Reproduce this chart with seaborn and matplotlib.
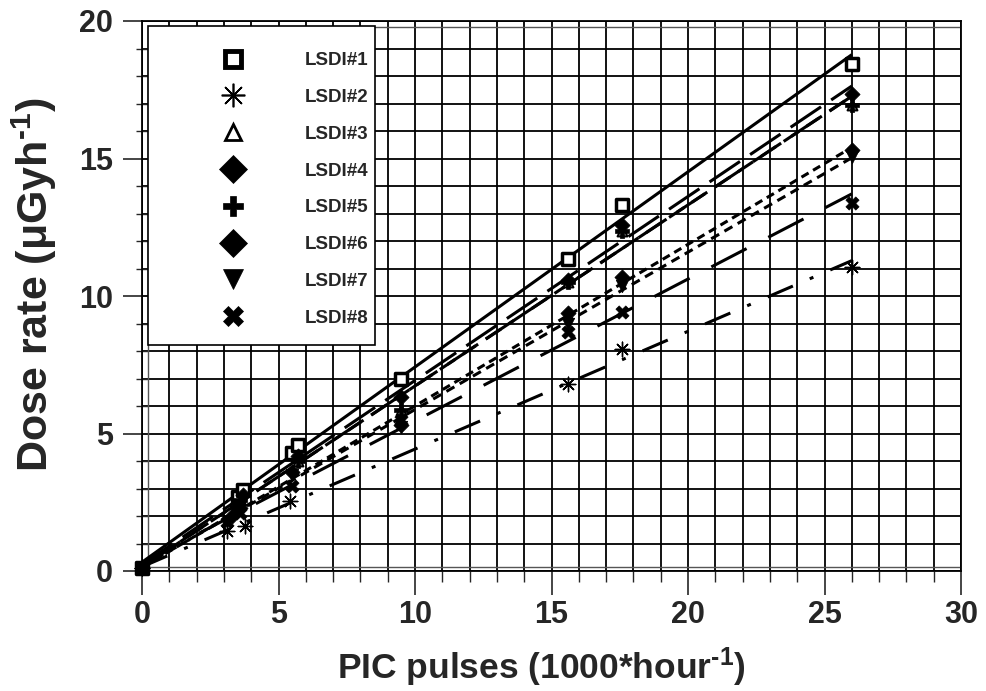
import numpy as np
import pandas as pd
import matplotlib
matplotlib.use("Agg")
import matplotlib.pyplot as plt
import seaborn as sns
from matplotlib.lines import Line2D
from matplotlib.patches import Rectangle
from matplotlib.ticker import MultipleLocator

# ---- data ----
names = ["LSDI#1", "LSDI#2", "LSDI#3", "LSDI#4", "LSDI#5", "LSDI#6", "LSDI#7", "LSDI#8"]
x1 = [0, 3.5, 3.7, 5.48, 5.73, 9.5, 15.6, 17.6, 26]
y1 = [0.1, 2.7, 2.95, 4.28, 4.58, 7.0, 11.35, 13.3, 18.45]
x2 = [0, 3.1, 3.77, 5.42, 15.6, 17.6, 26]
y2 = [0.1, 1.46, 1.64, 2.55, 6.8, 8.07, 11.05]
x3 = [0, 3.6, 5.7, 9.5, 15.6, 17.6, 26]
y3 = [0.1, 2.6, 4.0, 5.85, 10.5, 12.35, 16.96]
x4 = [0, 3.3, 3.6, 5.5, 9.5, 15.6, 17.6, 26]
y4 = [0.1, 2.0, 2.3, 3.6, 5.3, 9.37, 10.7, 15.3]
x5 = [0, 3.6, 5.7, 9.5, 15.6, 17.6, 26]
y5 = [0.1, 2.6, 4.0, 5.85, 10.5, 12.35, 16.96]
x6 = [0, 3.7, 5.7, 9.5, 15.6, 17.6, 26]
y6 = [0.1, 2.75, 4.2, 6.34, 10.58, 12.6, 17.35]
x7 = [0, 3.4, 5.5, 9.5, 15.6, 17.6, 26]
y7 = [0.1, 2.2, 3.5, 5.25, 9.0, 10.35, 15.05]
x8 = [0, 3.1, 3.6, 5.5, 9.5, 15.6, 17.6, 26]
y8 = [0.1, 1.8, 2.1, 3.1, 5.5, 8.7, 9.43, 13.38]
xs = [x1, x2, x3, x4, x5, x6, x7, x8]
ys = [y1, y2, y3, y4, y5, y6, y7, y8]

# ---- styles ----
markers = ["s", (8, 2, 0), "^", "D", "P", "D", "v", "X"]
faces = ["white", "black", "white", "black", "black", "black", "black", "black"]
msizes = [70, 110, 50, 60, 100, 60, 80, 90]
mlw = [2.5, 1.0, 1.5, 0.5, 0.5, 0.5, 0.5, 0.5]
mz = [6, 6, 5, 6, 6, 6, 6, 6]
dashes = [
    "-",
    (0, (9, 6, 1.3, 6)),
    (0, (11, 4)),
    (0, (2.7, 1.7)),
    (0, (6, 3)),
    (0, (12, 4)),
    (0, (3, 2)),
    (0, (13, 8)),
]

sns.set_style("white")
plt.rcParams["font.family"] = ["Liberation Sans", "DejaVu Sans"]
plt.rcParams["font.weight"] = "bold"
plt.rcParams["axes.labelweight"] = "bold"
plt.rcParams["mathtext.fontset"] = "custom"
plt.rcParams["mathtext.rm"] = "Liberation Sans:bold"
plt.rcParams["mathtext.bf"] = "Liberation Sans:bold"
plt.rcParams["mathtext.default"] = "rm"

fig = plt.figure(figsize=(9.86, 6.91), dpi=100)
ax = fig.add_axes([142 / 986, 1 - 571 / 691, (961 - 142) / 986, (571 - 21) / 691])

for i in range(8):
    df = pd.DataFrame({"x": xs[i], "y": ys[i]})
    sns.regplot(
        data=df, x="x", y="y", ax=ax, ci=None, truncate=True, color="black",
        marker=markers[i],
        scatter_kws=dict(s=msizes[i], facecolor=faces[i], edgecolor="black",
                         linewidths=mlw[i], alpha=1, zorder=mz[i], clip_on=False),
        line_kws=dict(lw=2.2, linestyle=dashes[i], zorder=4, solid_capstyle="butt"),
    )

ax.set_xlim(0, 30)
ax.set_ylim(0, 20)
ax.xaxis.set_major_locator(MultipleLocator(5))
ax.xaxis.set_minor_locator(MultipleLocator(1))
ax.yaxis.set_major_locator(MultipleLocator(5))
ax.yaxis.set_minor_locator(MultipleLocator(1))
ax.grid(True, which="both", color="black", lw=1.3)
ax.set_axisbelow(True)
for s in ax.spines.values():
    s.set_visible(True)
    s.set_color("black")
    s.set_linewidth(1.3)

ax.tick_params(axis="x", which="major", direction="out", length=17, width=1.2,
               pad=4, labelsize=22, bottom=True)
ax.tick_params(axis="x", which="minor", direction="out", length=8, width=1.0, bottom=True)
ax.tick_params(axis="y", which="major", direction="out", length=14, width=1.2,
               pad=7, labelsize=22, left=True)
ax.tick_params(axis="y", which="minor", direction="inout", length=8, width=1.0, left=True)
for lab in ax.get_xticklabels() + ax.get_yticklabels():
    lab.set_fontweight("bold")

# inner plot-area border
ax.add_patch(Rectangle((0.0073, 0.0075), 0.9927, 0.9815, transform=ax.transAxes,
                       fill=False, edgecolor="#555555", lw=1.0, zorder=1))

ax.set_xlabel(r"PIC pulses (1000*hour$^{\text{-}1}$)", fontsize=25.5, fontweight="bold")
ax.xaxis.set_label_coords(0.488, -0.136)
ax.set_ylabel(r"Dose rate (μGyh$^{\text{-}1}$)", fontsize=31, fontweight="bold")
ax.yaxis.set_label_coords(-0.101, 0.52)

# legend: frame box + entries
px2ax_x = lambda p: (p - 142) / 819
px2ax_y = lambda p: (571 - p) / 550
ax.add_patch(Rectangle((px2ax_x(148), px2ax_y(345)), px2ax_x(375) - px2ax_x(148),
                       px2ax_y(26) - px2ax_y(345), transform=ax.transAxes,
                       facecolor="white", edgecolor="black", lw=1.2, zorder=9))
handles = [Line2D([], [], linestyle="none", marker=markers[i],
                  markersize=[12, 17, 11, 14, 15, 14, 14, 14][i],
                  markerfacecolor=faces[i], markeredgecolor="black",
                  markeredgewidth=[3.5, 1.2, 2.0, 0.5, 0.5, 0.5, 0.5, 0.5][i]) for i in range(8)]
leg = ax.legend(handles, names, loc="upper left",
                bbox_to_anchor=(px2ax_x(167), px2ax_y(52)),
                borderaxespad=0, borderpad=0, prop=dict(weight="bold", size=13.5),
                frameon=False, handlelength=7.0, handletextpad=0.34, labelspacing=1.05,
                numpoints=1)
leg.set_zorder(10)

fig.savefig("out.png", dpi=100)
